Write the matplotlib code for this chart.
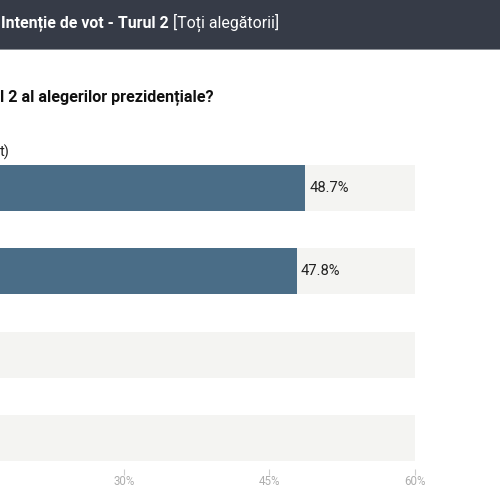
import matplotlib
matplotlib.use("Agg")
import matplotlib.pyplot as plt
from matplotlib.patches import Rectangle

plt.rcParams['font.family'] = ['Roboto', 'DejaVu Sans']

# Data
categories = ["Candidat 1", "Candidat 2", "Nu știu", "Nu răspund"]
values = [48.7, 47.8, 2.3, 1.2]
value_labels = ["48.7%", "47.8%", "", ""]   # last two labels lie off the visible crop
ticks = [30, 45, 60]
tick_labels = ["30%", "45%", "60%"]
xmax = 60

title_bold = "Intenție de vot - Turul 2 "
title_regular = "[Toți alegătorii]"
question = "l 2 al alegerilor prezidențiale?"
subtitle = "t)"

W, H = 500, 500
fig = plt.figure(figsize=(5, 5), dpi=100)
fig.patch.set_facecolor("white")

def fy(py):
    return 1 - py / H

def fx(px):
    return px / W

# header band
fig.patches.append(Rectangle((0, fy(49)), 1, 49 / H, transform=fig.transFigure,
                             facecolor="#363b47", edgecolor="none", zorder=0))
fig.patches.append(Rectangle((0, fy(50)), 1, 1.2 / H, transform=fig.transFigure,
                             facecolor="#8a8d94", edgecolor="none", zorder=0))

t1 = fig.text(fx(1), fy(23), title_bold, color="white", fontsize=11.4,
              fontweight="bold", va="center", ha="left")
fig.canvas.draw()
bb = t1.get_window_extent()
fig.text(bb.x1 / W, fy(23), title_regular, color="white", fontsize=11.4,
         fontweight="normal", va="center", ha="left")

fig.text(fx(0), fy(97), question, color="#111111", fontsize=11.6,
         fontweight="bold", va="center", ha="left")
fig.text(fx(0), fy(152), subtitle, color="#222222", fontsize=10.5,
         va="center", ha="left")

# axes: 0% at x=-167px, 60% at x=415px
left_px, right_px = -167, 415
top_px, bot_px = 165, 461
ax = fig.add_axes([fx(left_px), fy(bot_px), (right_px - left_px) / W,
                   (bot_px - top_px) / H])
ax.set_facecolor("none")
bar_h = 0.545
n = len(categories)
ypos = list(range(n))
ax.barh(ypos, [xmax] * n, height=bar_h, color="#f4f4f2", zorder=1)
ax.barh(ypos, values, height=bar_h, color="#4a6d87", zorder=2)
for y, v, lab in zip(ypos, values, value_labels):
    if lab:
        ax.text(v + 0.45, y, lab, va="center", ha="left", fontsize=10.6,
                color="#222222", zorder=3)
ax.set_xlim(0, xmax)
ax.set_ylim(n - 1 + bar_h / 2, -bar_h / 2)
ax.set_yticks([])
ax.set_xticks(ticks)
ax.set_xticklabels(tick_labels)
for s in ax.spines.values():
    s.set_visible(False)
ax.spines['bottom'].set_position(('outward', 6))
ax.tick_params(axis='x', length=4, width=0.8, color="#cccccc",
               labelcolor="#adadad", labelsize=8.3, pad=0)

fig.savefig("out.png", dpi=100)
